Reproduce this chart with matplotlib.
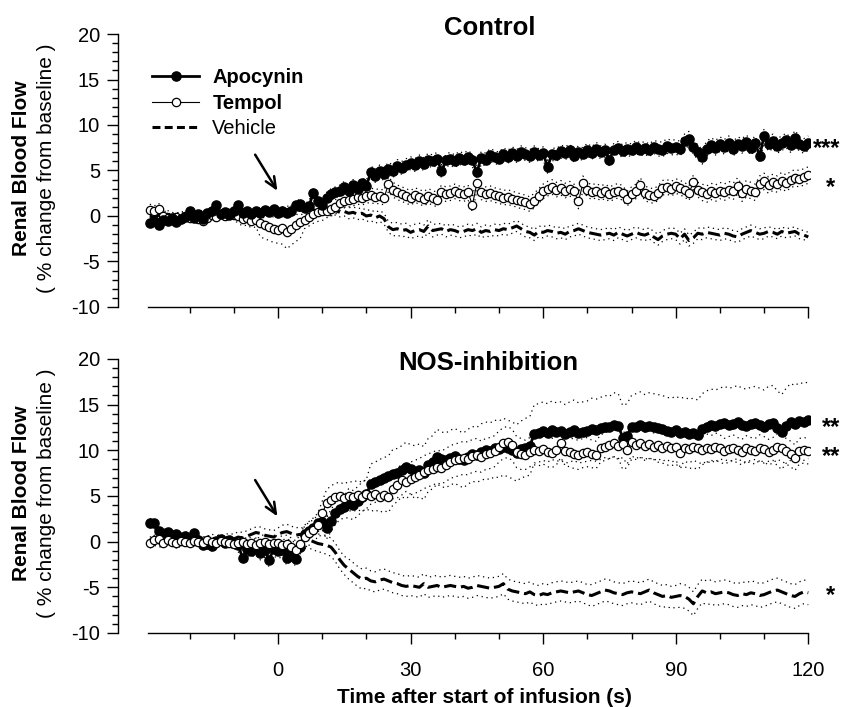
import numpy as np
import matplotlib
matplotlib.use('Agg')
import matplotlib.pyplot as plt
from matplotlib.lines import Line2D

plt.rcParams['font.family'] = ['Liberation Sans', 'DejaVu Sans']
plt.rcParams['axes.unicode_minus'] = False

# Data
# time (s) relative to start of infusion, one sample per second
time = np.arange(-29, 121)

# Control
ctrl_apo = [
    -0.8, -0.5, -1.0, -0.4, -0.6, -0.2, -0.7, -0.3, -0.1, 0.6,
    -0.2, 0.2, -0.3, 0.3, 0.5, 1.2, 0.2, 0.4, 0.1, 0.5,
    1.2, 0.3, 0.6, 0.2, 0.5, 0.3, 0.7, 0.4, 0.8, 0.3,
    0.5, 0.3, 0.6, 1.2, 1.3, 0.9, 1.1, 2.5, 1.6, 1.2,
    2.0, 2.4, 2.6, 2.8, 3.2, 2.7, 3.4, 3.0, 3.6, 3.3,
    4.8, 4.4, 4.9, 4.6, 5.2, 4.9, 5.5, 5.3, 5.6, 5.8,
    5.6, 6.0, 5.7, 6.2, 6.0, 6.3, 4.9, 6.1, 6.3, 6.0,
    6.4, 6.2, 6.5, 6.1, 4.8, 6.4, 6.2, 6.7, 6.5, 6.3,
    6.8, 6.5, 6.9, 6.6, 7.0, 6.8, 6.6, 7.0, 6.7, 6.9,
    5.4, 6.8, 6.7, 7.1, 6.9, 7.2, 6.6, 7.0, 6.8, 7.3,
    6.9, 7.4, 7.0, 7.2, 6.2, 7.3, 7.5, 7.1, 7.4, 7.2,
    7.6, 7.3, 7.5, 7.2, 7.6, 7.4, 7.3, 7.7, 7.5, 7.6,
    7.4, 8.2, 8.5, 7.6, 7.0, 6.5, 7.4, 7.8, 7.5, 7.9,
    7.6, 8.0, 7.4, 7.9, 7.7, 8.1, 7.5, 8.0, 6.6, 8.8,
    7.9, 8.2, 7.7, 8.0, 8.3, 7.8, 8.6, 7.9, 7.7, 8.0]
ctrl_tem = [
    0.7, 0.5, 0.8, 0.0, -0.2, -0.4, -0.1, -0.3, 0.0, -0.2,
    -0.1, -0.3, -0.5, -0.2, 0.1, -0.1, 0.2, 0.0, 0.3, 0.1,
    0.0, -0.3, -0.2, -0.5, -0.4, -0.8, -1.0, -1.2, -1.4, -1.5,
    -1.3, -1.8, -1.4, -1.0, -0.7, -0.4, -0.1, 0.2, 0.4, 0.5,
    0.6, 0.8, 1.0, 1.4, 1.7, 1.8, 1.9, 2.1, 2.0, 2.2,
    2.3, 2.1, 2.2, 2.0, 3.5, 2.9, 2.6, 2.4, 2.2, 2.0,
    2.3, 2.1, 1.9, 2.2, 2.0, 1.8, 2.6, 2.4, 2.5, 2.7,
    2.5, 2.4, 2.6, 1.2, 3.6, 2.6, 2.4, 2.5, 2.3, 2.2,
    2.0, 2.1, 1.9, 1.8, 1.6, 1.5, 1.3, 1.7, 2.2, 2.7,
    3.0, 3.2, 2.9, 3.1, 2.8, 3.0, 2.7, 1.6, 3.6, 2.9,
    2.6, 2.8, 2.5, 2.7, 2.4, 2.6, 2.8, 2.5, 1.9, 2.4,
    2.7, 3.4, 2.5, 2.3, 2.2, 2.5, 3.1, 3.2, 3.0, 3.3,
    3.1, 2.9, 2.5, 3.7, 2.9, 2.6, 2.4, 2.7, 2.5, 2.8,
    2.6, 2.9, 2.7, 3.3, 2.5, 3.0, 2.8, 2.6, 3.5, 3.8,
    3.4, 3.7, 3.5, 3.9, 3.6, 4.0, 4.2, 4.1, 4.3, 4.5]
ctrl_veh = [
    0.0, -0.2, 0.1, -0.1, 0.2, 0.0, -0.1, 0.1, 0.0, 0.2,
    0.1, 0.0, 0.2, 0.1, 0.3, 0.2, 0.1, 0.3, 0.2, 0.4,
    0.3, 0.4, 0.2, 0.3, 0.5, 0.4, 0.3, 0.5, 0.4, 0.3,
    0.4, 0.6, 0.5, 0.7, 0.6, 0.8, 0.6, 0.7, 0.5, 0.6,
    0.7, 0.5, 0.6, 0.4, 0.5, 0.3, 0.4, 0.2, 0.3, 0.0,
    0.1, -0.2, 0.0, -0.3, -1.2, -1.5, -1.4, -1.6, -1.5, -1.8,
    -1.6, -1.5, -1.7, -1.1, -1.6, -1.5, -1.4, -1.7, -1.5, -1.6,
    -1.8, -1.7, -1.5, -1.6, -1.4, -1.8, -1.6, -1.7, -1.5, -1.6,
    -1.4, -1.5, -1.3, -1.1, -1.4, -1.7, -1.8, -2.1, -1.7, -1.8,
    -1.6, -1.7, -1.9, -1.8, -2.0, -1.7, -1.6, -1.4, -1.6, -1.8,
    -1.9, -2.0, -2.1, -2.0, -1.9, -2.1, -1.8, -2.0, -2.2, -2.0,
    -1.8, -2.0, -2.1, -1.9, -2.3, -2.6, -2.2, -2.0, -1.9, -2.0,
    -2.5, -2.0, -2.7, -2.4, -1.9, -2.0, -1.8, -1.9, -2.0, -2.1,
    -1.9, -2.0, -2.2, -2.3, -2.0, -1.8, -1.6, -1.8, -2.0, -1.9,
    -1.7, -1.8, -2.0, -1.7, -1.9, -1.8, -1.7, -2.0, -2.1, -2.3]

# SEM, one value per 5 s block
ctrl_apo_sem = [0.4, 0.4, 0.4, 0.4, 0.4, 0.4, 0.5, 0.5, 0.6, 0.6,
                0.7, 0.7, 0.7, 0.7, 0.7, 0.7, 0.7, 0.7, 0.7, 0.7,
                0.7, 0.7, 0.7, 0.8, 0.8, 0.8, 0.8, 0.8, 0.8, 0.8]
ctrl_tem_sem = [0.6, 0.5, 0.5, 0.5, 0.8, 1.5, 1.8, 1.0, 0.8, 0.8,
                0.8, 0.8, 0.8, 0.8, 0.8, 0.8, 0.8, 0.8, 0.8, 0.8,
                0.8, 0.8, 0.8, 0.8, 0.8, 0.9, 0.9, 0.9, 0.9, 0.9]
ctrl_veh_sem = [0.4, 0.4, 0.4, 0.4, 0.4, 0.5, 0.5, 0.5, 0.5, 0.6,
                0.6, 0.7, 0.7, 0.6, 0.6, 0.6, 0.6, 0.6, 0.6, 0.6,
                0.6, 0.6, 0.6, 0.6, 0.6, 0.6, 0.6, 0.6, 0.5, 0.5]

# NOS-inhibition
nos_apo = [
    2.0, 2.0, 1.2, 0.8, 1.0, 0.6, 0.8, 0.4, 0.6, 0.3,
    0.9, 0.2, -0.4, -0.3, -0.5, 0.1, 0.3, -0.1, 0.2, -0.2,
    -0.4, -1.8, -0.8, -1.0, -0.7, -1.2, -0.9, -2.0, -0.8, -1.0,
    -0.9, -1.8, -1.2, -1.9, -0.6, 0.8, 1.2, 1.5, 2.0, 2.2,
    1.5, 2.3, 3.1, 3.6, 3.8, 4.2, 4.0, 4.4, 4.9, 5.2,
    6.3, 6.5, 6.8, 7.0, 7.2, 7.4, 7.5, 7.8, 8.2, 7.9,
    7.6, 7.8, 7.5, 8.4, 8.7, 9.3, 9.0, 8.9, 9.2, 9.4,
    9.1, 8.9, 9.3, 9.6, 9.5, 9.8, 10.0, 9.9, 10.2, 10.1,
    10.4, 10.2, 10.0, 9.7, 10.1, 10.3, 10.5, 11.8, 11.9, 12.1,
    11.9, 12.2, 12.0, 12.1, 11.8, 12.0, 12.2, 11.9, 12.0, 12.1,
    12.3, 12.2, 12.4, 12.6, 12.5, 12.8, 12.7, 11.4, 11.6, 12.5,
    12.6, 12.8, 12.5, 12.7, 12.6, 12.4, 12.3, 12.1, 12.0, 12.2,
    11.9, 12.0, 11.8, 11.9, 11.7, 12.3, 12.6, 12.8, 12.7, 12.9,
    13.0, 12.8, 12.9, 13.1, 12.8, 12.7, 12.9, 13.0, 12.8, 12.6,
    12.9, 13.0, 12.4, 12.0, 12.7, 13.1, 12.9, 13.2, 13.1, 13.3]
nos_tem = [
    -0.2, 0.2, 0.3, -0.1, 0.2, 0.0, -0.2, 0.1, 0.0, -0.1,
    0.1, 0.0, -0.1, 0.2, 0.0, -0.2, 0.1, 0.0, -0.1, -0.3,
    -0.2, 0.0, -0.3, -0.1, -0.4, -0.2, 0.0, -0.3, -0.1, -0.2,
    -0.4, -0.3, -0.6, -0.9, -0.3, 0.5, 0.9, 1.3, 1.8, 3.1,
    4.2, 4.6, 4.9, 5.0, 4.8, 5.0, 4.9, 5.1, 4.9, 5.2,
    5.0, 5.2, 4.9, 5.1, 4.9, 5.8, 6.2, 6.7, 6.5, 6.9,
    7.1, 7.3, 7.6, 7.8, 8.0, 8.2, 8.1, 8.4, 8.7, 8.9,
    9.0, 9.2, 9.1, 9.4, 9.5, 9.3, 9.6, 9.7, 9.9, 10.4,
    10.8, 10.9, 10.6, 9.8, 9.6, 9.5, 9.8, 10.0, 9.9, 10.1,
    9.8, 9.7, 10.0, 10.8, 9.9, 9.8, 9.6, 9.5, 9.7, 9.8,
    9.6, 9.5, 10.2, 10.4, 10.6, 10.8, 10.5, 10.7, 10.0, 10.9,
    10.6, 10.8, 10.5, 10.7, 10.4, 10.6, 10.3, 10.5, 10.2, 10.4,
    9.7, 10.3, 10.1, 10.4, 10.2, 10.0, 10.3, 10.1, 10.4, 10.2,
    9.9, 10.1, 10.3, 10.0, 9.8, 10.2, 10.0, 9.9, 10.3, 10.1,
    9.8, 10.0, 10.4, 10.2, 9.9, 9.6, 9.2, 9.9, 10.0, 9.9]
nos_veh = [
    0.0, 0.1, -0.1, 0.0, 0.2, 0.1, 0.0, -0.1, 0.1, 0.0,
    0.1, 0.2, 0.0, 0.1, 0.3, 0.2, 0.1, 0.3, 0.4, 0.3,
    0.5, 0.4, 0.6, 0.8, 1.0, 0.9, 0.7, 0.6, 0.5, 0.8,
    1.0, 1.1, 0.9, 0.7, 0.8, 0.5, 0.2, 0.0, -0.2, -0.3,
    -0.4, -0.6, -1.2, -2.0, -2.6, -3.0, -3.4, -3.8, -4.1, -4.0,
    -4.3, -4.4, -4.2, -4.1, -4.3, -4.5, -4.6, -4.8, -4.9, -4.8,
    -4.9, -5.0, -4.6, -5.0, -4.9, -4.8, -5.0, -4.9, -4.8, -4.9,
    -5.0, -4.9, -5.1, -5.0, -4.8, -4.9, -5.0, -5.1, -5.0, -4.9,
    -4.6, -5.2, -5.4, -5.5, -5.6, -5.7, -5.5, -5.8, -5.9, -5.7,
    -5.8, -5.6, -5.5, -5.4, -5.5, -5.6, -5.5, -5.4, -5.6, -5.8,
    -5.9, -5.7, -5.5, -5.3, -5.4, -5.6, -5.7, -5.8, -5.6, -5.5,
    -5.6, -5.7, -5.5, -5.3, -5.6, -5.8, -6.0, -5.9, -6.1, -6.0,
    -5.9, -6.0, -6.3, -6.8, -6.0, -5.4, -5.6, -5.5, -5.7, -5.6,
    -5.5, -5.6, -5.8, -5.9, -5.7, -5.8, -5.6, -5.7, -5.9, -5.8,
    -5.6, -5.4, -5.3, -5.5, -5.7, -5.9, -6.0, -5.7, -5.5, -5.6]

nos_apo_sem = [0.5, 0.5, 0.5, 0.5, 0.7, 0.8, 0.8, 0.9, 1.2, 1.6,
               2.2, 2.7, 2.9, 3.0, 3.0, 3.1, 3.1, 3.2, 3.2, 3.3,
               3.4, 3.5, 3.6, 3.7, 3.8, 3.9, 4.0, 4.0, 4.1, 4.2]
nos_tem_sem = [0.5, 0.5, 0.5, 0.5, 0.6, 0.8, 1.0, 1.3, 1.5, 1.6,
               1.7, 1.8, 1.8, 1.8, 1.8, 1.7, 1.7, 1.6, 1.6, 1.6,
               1.5, 1.5, 1.5, 1.5, 1.5, 1.5, 1.4, 1.4, 1.4, 1.4]
nos_veh_sem = [0.5, 0.5, 0.5, 0.5, 0.6, 0.7, 0.8, 0.9, 1.0, 1.1,
               1.1, 1.1, 1.1, 1.1, 1.1, 1.1, 1.1, 1.1, 1.1, 1.1,
               1.2, 1.2, 1.2, 1.2, 1.3, 1.3, 1.3, 1.3, 1.3, 1.3]

# significance marks: (text, x, y)
ctrl_stars = [('***', 121, 7.4), ('*', 124, 3.1)]
nos_stars = [('**', 123, 12.5), ('**', 123, 9.3), ('*', 124, -5.9)]

# Graphing
fig = plt.figure(figsize=(8.46, 7.07), dpi=100)
ax1 = fig.add_axes([0.1395, 0.5658, 0.818, 0.3861])
ax2 = fig.add_axes([0.1395, 0.1047, 0.818, 0.3876])

band_style = dict(color='black', lw=0.9, linestyle=(0, (1, 3)), zorder=1)
veh_style = dict(color='black', lw=2.2, linestyle=(0, (4, 1.6)), zorder=2)
apo_style = dict(color='black', lw=2.0, marker='o', markersize=6.6,
                 markerfacecolor='black', markeredgecolor='black')
tem_style = dict(color='black', lw=0.8, marker='o', markersize=6.0,
                 markerfacecolor='white', markeredgecolor='black',
                 markeredgewidth=0.9)


def draw_panel(ax, apo, tem, veh, apo_sem, tem_sem, veh_sem, tempol_on_top):
    for mean, sem in [(apo, apo_sem), (tem, tem_sem), (veh, veh_sem)]:
        m = np.array(mean)
        s = np.repeat(sem, 5)
        ax.plot(time, m + s, **band_style)
        ax.plot(time, m - s, **band_style)
    ax.plot(time, veh, **veh_style)
    ax.plot(time, apo, zorder=3 if tempol_on_top else 4, **apo_style)
    ax.plot(time, tem, zorder=4 if tempol_on_top else 3, **tem_style)


draw_panel(ax1, ctrl_apo, ctrl_tem, ctrl_veh,
           ctrl_apo_sem, ctrl_tem_sem, ctrl_veh_sem, False)
draw_panel(ax2, nos_apo, nos_tem, nos_veh,
           nos_apo_sem, nos_tem_sem, nos_veh_sem, True)

# Graph UI
for ax in (ax1, ax2):
    ax.set_xlim(-36.2, 120.4)
    ax.set_ylim(-10, 20)
    ax.spines['top'].set_visible(False)
    ax.spines['right'].set_visible(False)
    ax.spines['bottom'].set_bounds(-29.5, 120)
    ax.spines['left'].set_linewidth(1.0)
    ax.spines['bottom'].set_linewidth(1.0)
    ax.set_xticks([0, 30, 60, 90, 120])
    ax.set_xticks([-20, -10, 10, 20, 40, 50, 70, 80, 100, 110], minor=True)
    ax.set_yticks(np.arange(-10, 21, 5))
    ax.set_yticks(np.arange(-10, 21, 1), minor=True)
    ax.tick_params(which='major', direction='out', length=8, width=1.0,
                   labelsize=14.5)
    ax.tick_params(which='minor', direction='out', length=4, width=1.0)
    ax.tick_params(axis='x', which='major', pad=12)
    ax.tick_params(axis='y', which='major', pad=5)
    ax.text(-0.140, 0.51, 'Renal Blood Flow', rotation=90, fontsize=15,
            fontweight='bold', ha='center', va='center',
            transform=ax.transAxes)
    ax.text(-0.104, 0.51, '( % change from baseline )', rotation=90,
            fontsize=15, ha='center', va='center', transform=ax.transAxes)
    # infusion arrow
    ax.annotate('', xy=(0.2, 2.5), xytext=(-5.5, 7.0),
                arrowprops=dict(arrowstyle='->,head_length=0.8,head_width=0.35',
                                lw=1.8, color='black'))

ax1.tick_params(axis='x', labelbottom=False)

ax1.text(0.5376, 0.996, 'Control', fontsize=18.5, fontweight='bold',
         ha='center', va='baseline', transform=ax1.transAxes)
ax2.text(0.535, 0.96, 'NOS-inhibition', fontsize=18.5, fontweight='bold',
         ha='center', va='baseline', transform=ax2.transAxes)
ax2.text(0.529, -0.255, 'Time after start of infusion (s)', fontsize=15,
         fontweight='bold', ha='center', va='baseline',
         transform=ax2.transAxes)

for ax, stars in [(ax1, ctrl_stars), (ax2, nos_stars)]:
    for s, x, y in stars:
        ax.text(x, y, s, fontsize=17, fontweight='bold', ha='left',
                va='center', clip_on=False)

handles = [
    Line2D([], [], **apo_style),
    Line2D([], [], **tem_style),
    Line2D([], [], color='black', lw=2.2, linestyle=(0, (2.6, 1.4))),
]
leg = ax1.legend(handles, ['Apocynin', 'Tempol', 'Vehicle'],
                 loc='upper left', bbox_to_anchor=(0.049, 0.875),
                 frameon=False, fontsize=14.5, numpoints=1,
                 handlelength=2.35, handletextpad=0.65, labelspacing=0.32,
                 borderpad=0, borderaxespad=0)
leg.get_texts()[0].set_fontweight('bold')
leg.get_texts()[1].set_fontweight('bold')

fig.savefig('out.png', dpi=100)
